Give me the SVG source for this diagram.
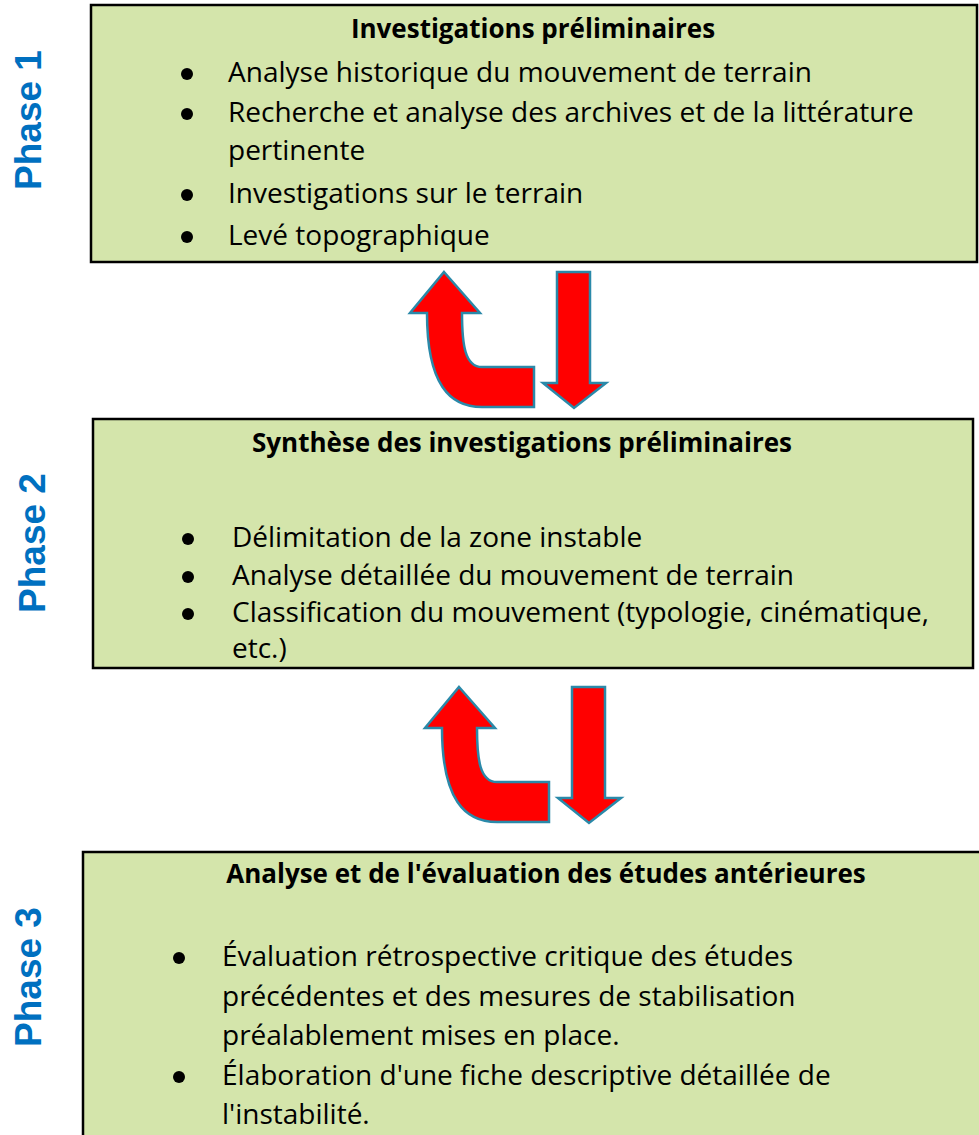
<svg xmlns="http://www.w3.org/2000/svg" width="979" height="1135" viewBox="0 0 979 1135">
<style>
.box{fill:#D4E5AB;stroke:#000;stroke-width:2.5}
.t{font-family:"Open Sans","Noto Sans",sans-serif;font-size:28px;fill:#000}
.h{font-family:"Open Sans","Noto Sans",sans-serif;font-size:26px;font-weight:bold;fill:#000;text-anchor:middle}
.ph{font-family:"Liberation Sans",Arial,sans-serif;font-size:37px;font-weight:bold;fill:#0070C0;text-anchor:middle}
.b{fill:#000}
.arr{fill:#FF0000;stroke:#2A89A9;stroke-width:2.5;stroke-linejoin:miter}
</style>
<defs>
<g id="arrows">
<path class="arr" d="M444,272 L480,313 L462,313 C462,345 465,367 482,367 L534,367 L534,407 L482,407 C450,407 427,385 427,313 L410,313 Z"/>
<path class="arr" d="M557,272 L590,272 L590,383 L606,383 L574,408 L543,383 L557,383 Z"/>
</g>
</defs>
<rect width="979" height="1135" fill="#fff"/>

<g id="phase-labels">
<text class="ph" transform="translate(41,120) rotate(-90)">Phase 1</text>
<text class="ph" transform="translate(45,543) rotate(-90)">Phase 2</text>
<text class="ph" transform="translate(41,977) rotate(-90)">Phase 3</text>
</g>

<g id="node-phase1">
<rect class="box" x="91" y="5" width="886" height="257"/>
<text class="h" x="533" y="38">Investigations préliminaires</text>
<circle class="b" cx="187" cy="74" r="6"/>
<text class="t" x="228" y="82">Analyse historique du mouvement de terrain</text>
<circle class="b" cx="187" cy="114" r="6"/>
<text class="t" x="228" y="122">Recherche et analyse des archives et de la littérature</text>
<text class="t" x="228" y="160">pertinente</text>
<circle class="b" cx="187" cy="195" r="6"/>
<text class="t" x="228" y="203">Investigations sur le terrain</text>
<circle class="b" cx="187" cy="237" r="6"/>
<text class="t" x="228" y="245">Levé topographique</text>
</g>

<g id="node-phase2">
<rect class="box" x="93" y="419" width="880" height="249"/>
<text class="h" x="522" y="452">Synthèse des investigations préliminaires</text>
<circle class="b" cx="188" cy="539" r="6"/>
<text class="t" x="232" y="547">Délimitation de la zone instable</text>
<circle class="b" cx="188" cy="577" r="6"/>
<text class="t" x="232" y="585">Analyse détaillée du mouvement de terrain</text>
<circle class="b" cx="188" cy="614" r="6"/>
<text class="t" x="232" y="622">Classification du mouvement (typologie, cinématique,</text>
<text class="t" x="232" y="658">etc.)</text>
</g>

<g id="node-phase3">
<rect class="box" x="83" y="852" width="920" height="300"/>
<text class="h" x="546" y="883">Analyse et de l'évaluation des études antérieures</text>
<circle class="b" cx="179" cy="958" r="6"/>
<text class="t" x="222" y="966">Évaluation rétrospective critique des études</text>
<text class="t" x="222" y="1006">précédentes et des mesures de stabilisation</text>
<text class="t" x="222" y="1045">préalablement mises en place.</text>
<circle class="b" cx="179" cy="1077" r="6"/>
<text class="t" x="222" y="1085">Élaboration d'une fiche descriptive détaillée de</text>
<text class="t" x="222" y="1124">l'instabilité.</text>
</g>

<g id="connectors">
<use href="#arrows"/>
<use href="#arrows" transform="translate(15,415)"/>
</g>
</svg>
